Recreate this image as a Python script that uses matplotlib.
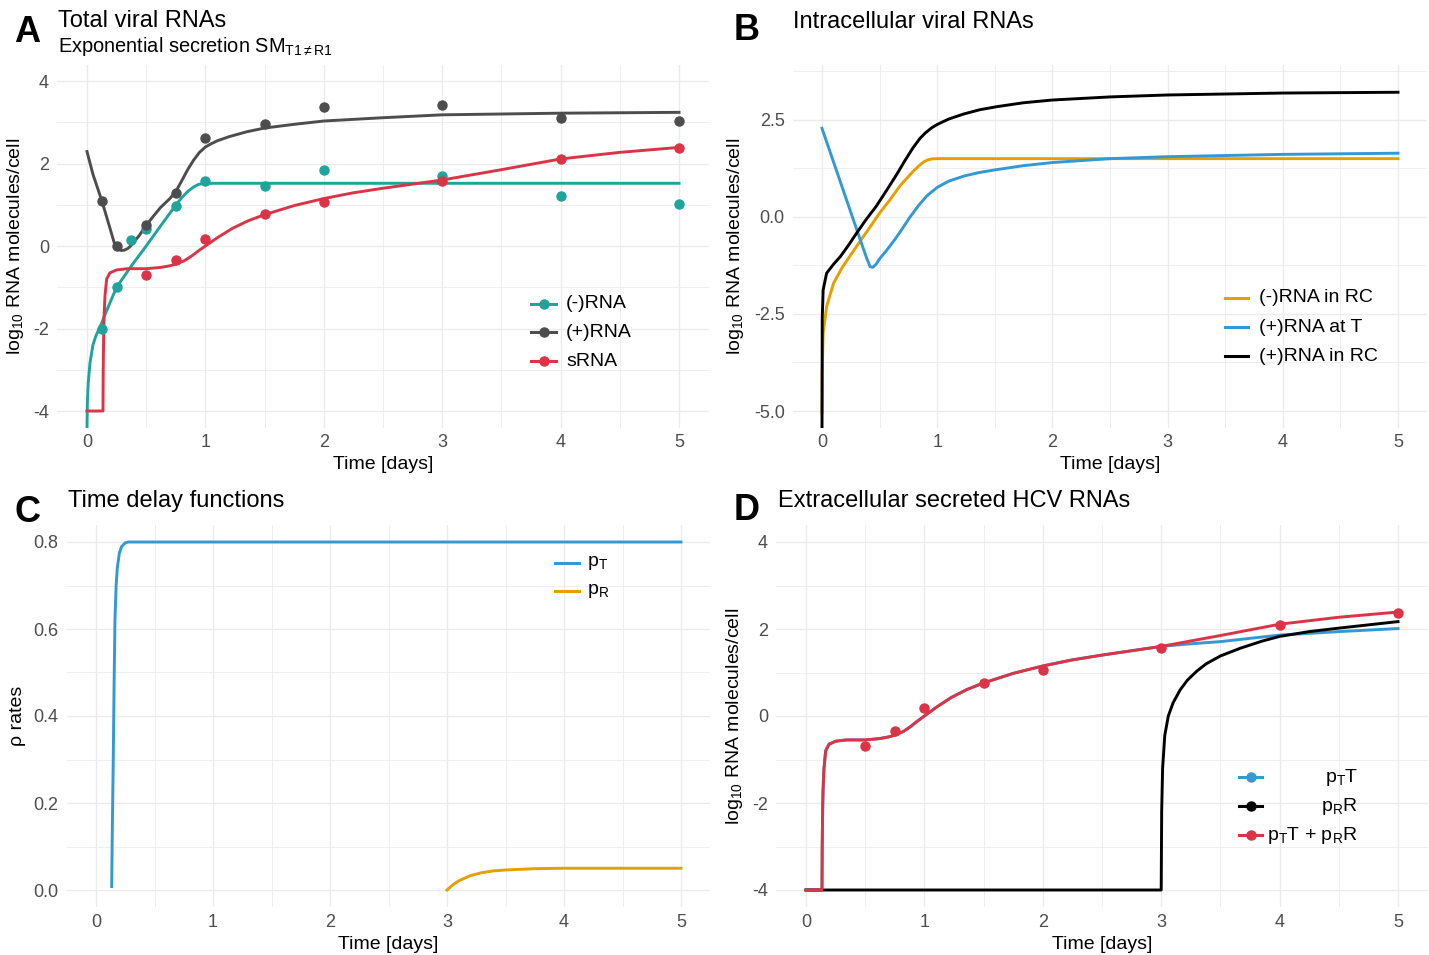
import numpy as np
import matplotlib
matplotlib.use('Agg')
import matplotlib.pyplot as plt
from matplotlib.lines import Line2D
from matplotlib.ticker import MultipleLocator, FormatStrFormatter

plt.rcParams['font.family'] = ['Liberation Sans', 'DejaVu Sans']
plt.rcParams['mathtext.fontset'] = 'custom'
plt.rcParams['mathtext.rm'] = 'Liberation Sans'
plt.rcParams['mathtext.it'] = 'Liberation Sans:italic'
plt.rcParams['mathtext.bf'] = 'Liberation Sans:bold'
plt.rcParams['axes.unicode_minus'] = False

# ---- data ----
# A: measured points (days, log10 RNA / cell)
neg_obs_t = [0.125, 0.25, 0.375, 0.5, 0.75, 1, 1.5, 2, 3, 4, 5]
neg_obs_y = [-2.0, -1.0, 0.15, 0.41, 0.97, 1.58, 1.45, 1.84, 1.70, 1.22, 1.01]
pos_obs_t = [0.125, 0.25, 0.5, 0.75, 1, 1.5, 2, 3, 4, 5]
pos_obs_y = [1.1, 0.0, 0.5, 1.29, 2.61, 2.95, 3.37, 3.41, 3.10, 3.02]
srna_obs_t = [0.5, 0.75, 1, 1.5, 2, 3, 4, 5]
srna_obs_y = [-0.7, -0.35, 0.18, 0.77, 1.06, 1.57, 2.10, 2.37]

# A: model curves
neg_t = [0, 0.003, 0.01, 0.025, 0.05, 0.075, 0.1, 0.125, 0.15, 0.18, 0.25, 0.375, 0.5,
         0.625, 0.75, 0.8, 0.85, 0.9, 0.94, 0.97, 1.0, 5]
neg_y = [-4.4, -3.8, -3.33, -2.84, -2.4, -2.18, -2.02, -1.86, -1.68, -1.47, -1.0, -0.48,
         0.0, 0.5, 0.99, 1.17, 1.32, 1.43, 1.49, 1.51, 1.52, 1.52]
pos_t = [0, 0.05, 0.125, 0.19, 0.236, 0.265, 0.29, 0.315, 0.345, 0.375, 0.44, 0.5, 0.56,
         0.62, 0.7, 0.75, 0.8, 0.85, 0.9, 0.95, 1.0, 1.05, 1.1, 1.2, 1.35, 1.5, 1.75, 2,
         2.5, 3, 4, 5]
pos_y = [2.29, 1.74, 1.1, 0.47, 0.02, -0.08, -0.11, -0.1, -0.06, 0.02, 0.25, 0.5, 0.72,
         0.93, 1.15, 1.32, 1.58, 1.85, 2.08, 2.27, 2.4, 2.48, 2.55, 2.65, 2.77, 2.86, 2.95,
         3.03, 3.11, 3.18, 3.22, 3.24]
srna_t = [0, 0.135, 0.137, 0.141, 0.144, 0.152, 0.166, 0.194, 0.25, 0.34, 0.5, 0.62, 0.7,
          0.75, 0.82, 0.88, 0.94, 1.0, 1.1, 1.23, 1.36, 1.5, 1.75, 2.0, 2.25, 2.5, 2.75,
          3, 3.5, 4, 4.5, 5]
srna_y = [-4.0, -4.0, -3.0, -2.08, -1.71, -1.2, -0.8, -0.65, -0.58, -0.55, -0.55, -0.52,
          -0.48, -0.44, -0.36, -0.25, -0.12, 0.0, 0.2, 0.43, 0.61, 0.76, 0.98, 1.15, 1.29,
          1.40, 1.50, 1.60, 1.85, 2.11, 2.27, 2.39]

# B: intracellular curves
rc_neg_t = [0, 0.002, 0.01, 0.04, 0.1, 0.17, 0.24, 0.33, 0.42, 0.5, 0.59, 0.68, 0.79,
            0.84, 0.88, 0.92, 0.96, 1.0, 5]
rc_neg_y = [-5.05, -4.0, -3.0, -2.31, -1.71, -1.33, -1.02, -0.63, -0.25, 0.1, 0.44, 0.81,
            1.17, 1.31, 1.41, 1.47, 1.495, 1.5, 1.5]
t_pos_t = [0, 0.2, 0.36, 0.39, 0.417, 0.44, 0.47, 0.5, 0.55, 0.59, 0.64, 0.68, 0.76, 0.84,
           0.91, 1.0, 1.1, 1.23, 1.36, 1.5, 1.75, 2, 2.5, 3, 4, 5]
t_pos_y = [2.28, 0.55, -0.83, -1.08, -1.28, -1.3, -1.22, -1.08, -0.9, -0.75, -0.55, -0.38,
           -0.02, 0.3, 0.54, 0.76, 0.92, 1.05, 1.14, 1.21, 1.32, 1.40, 1.50, 1.55, 1.61, 1.64]
rc_pos_t = [0, 0.002, 0.01, 0.04, 0.1, 0.16, 0.23, 0.3, 0.38, 0.47, 0.56, 0.65, 0.72, 0.79,
            0.85, 0.9, 0.95, 1.0, 1.1, 1.23, 1.37, 1.52, 1.75, 2, 2.5, 3, 4, 5]
rc_pos_y = [-5.45, -2.6, -1.88, -1.45, -1.22, -1.02, -0.73, -0.42, -0.08, 0.27, 0.68, 1.1,
            1.45, 1.78, 2.02, 2.17, 2.29, 2.38, 2.52, 2.65, 2.76, 2.84, 2.94, 3.01, 3.09,
            3.14, 3.19, 3.21]

# C: time delay functions
pT_t = [0.134, 0.14, 0.148, 0.155, 0.162, 0.172, 0.182, 0.2, 0.22, 0.25, 0.276, 5]
pT_y = [0.008, 0.15, 0.31, 0.48, 0.62, 0.70, 0.74, 0.775, 0.79, 0.798, 0.8, 0.8]
pR_t = [3.0, 3.05, 3.1, 3.2, 3.3, 3.4, 3.5, 3.75, 4, 4.5, 5]
pR_y = [0.0, 0.012, 0.021, 0.033, 0.04, 0.044, 0.046, 0.049, 0.05, 0.05, 0.05]

# D: secreted RNA split by origin (p_T T follows sRNA up to day 3)
split = srna_t.index(3)
ptT_t = srna_t[:split + 1] + [3.25, 3.5, 4, 4.5, 5]
ptT_y = srna_y[:split + 1] + [1.66, 1.71, 1.86, 1.94, 2.01]
prR_t = [0, 3.0, 3.004, 3.012, 3.03, 3.06, 3.1, 3.16, 3.22, 3.3, 3.38, 3.5, 3.67, 3.85,
         4, 4.25, 4.5, 5]
prR_y = [-4.0, -4.0, -2.2, -1.2, -0.45, 0.0, 0.3, 0.6, 0.82, 1.03, 1.2, 1.38, 1.56, 1.72,
         1.83, 1.94, 2.02, 2.17]

TEAL = '#20A39B'
GREY = '#4D4D4D'
RED = '#DA3446'
ORANGE = '#E69F00'
BLUE = '#3299D5'
BLACK = '#000000'

W, H = 1429, 955
fig = plt.figure(figsize=(W / 100, H / 100), dpi=100)


def add_ax(left, top, right, bottom):
    return fig.add_axes([left / W, 1 - bottom / H, (right - left) / W, (bottom - top) / H])


def style(ax, ylim, ymaj, fmt):
    ax.set_xlim(-0.25, 5.25)
    ax.set_ylim(*ylim)
    ax.xaxis.set_major_locator(MultipleLocator(1))
    ax.xaxis.set_minor_locator(MultipleLocator(0.5))
    ax.yaxis.set_major_locator(MultipleLocator(ymaj))
    ax.yaxis.set_minor_locator(MultipleLocator(ymaj / 2))
    ax.yaxis.set_major_formatter(FormatStrFormatter(fmt))
    ax.grid(which='major', color='#EBEBEB', lw=1.0)
    ax.grid(which='minor', color='#EBEBEB', lw=0.6)
    ax.tick_params(which='both', length=0, labelsize=13, labelcolor=GREY)
    ax.tick_params(axis='x', pad=5)
    ax.tick_params(axis='y', pad=6)
    for s in ax.spines.values():
        s.set_visible(False)
    ax.set_axisbelow(True)
    ax.set_xlabel('Time [days]', fontsize=14)


def legend(entries, x0, x1, xt, ys, ha='left', marker=True):
    for (label, color), y in zip(entries, ys):
        fig.add_artist(Line2D([x0 / W, x1 / W], [1 - y / H, 1 - y / H], color=color, lw=2.2))
        if marker:
            fig.add_artist(Line2D([(x0 + x1) / 2 / W], [1 - y / H], marker='o', ms=6.5,
                                  color=color, lw=0))
        fig.text(xt / W, 1 - y / H, label, ha=ha, va='center', fontsize=14)


ylab = r'log$_{10}$ RNA molecules/cell'
lw = 2.1
ms = 6.5

# ---- A ----
axA = add_ax(57.4, 64.5, 708.6, 427.5)
style(axA, (-4.4, 4.4), 2, '%d')
axA.plot(neg_t, neg_y, color=TEAL, lw=lw)
axA.plot(pos_t, pos_y, color=GREY, lw=lw)
axA.plot(srna_t, srna_y, color=RED, lw=lw)
axA.plot(neg_obs_t, neg_obs_y, 'o', color=TEAL, ms=ms)
axA.plot(pos_obs_t, pos_obs_y, 'o', color=GREY, ms=ms)
axA.plot(srna_obs_t, srna_obs_y, 'o', color=RED, ms=ms)
axA.set_ylabel(ylab, fontsize=14)
axA.yaxis.set_label_coords(-0.048, 0.5)
axA.xaxis.set_label_coords(0.5, -0.078)
legend([('(-)RNA', TEAL), ('(+)RNA', GREY), ('sRNA', RED)], 531, 556, 566, [304, 332.5, 361])

# ---- B ----
axB = add_ax(793.2, 64.5, 1426.8, 427.5)
style(axB, (-5.425, 3.925), 2.5, '%.1f')
axB.plot(rc_neg_t, rc_neg_y, color=ORANGE, lw=lw)
axB.plot(t_pos_t, t_pos_y, color=BLUE, lw=lw)
axB.plot(rc_pos_t, rc_pos_y, color=BLACK, lw=lw)
axB.set_ylabel(ylab, fontsize=14)
axB.yaxis.set_label_coords(-0.0745, 0.5)
axB.xaxis.set_label_coords(0.5, -0.078)
legend([('(-)RNA in RC', ORANGE), ('(+)RNA at T', BLUE), ('(+)RNA in RC', BLACK)],
       1225, 1248, 1259, [298, 327, 356], marker=False)

# ---- C ----
axC = add_ax(66.75, 524.6, 710.25, 907.4)
style(axC, (-0.04, 0.84), 0.2, '%.1f')
axC.plot(pT_t, pT_y, color=BLUE, lw=lw)
axC.plot(pR_t, pR_y, color=ORANGE, lw=lw)
axC.set_ylabel('ρ rates', fontsize=14)
axC.yaxis.set_label_coords(-0.0633, 0.5)
axC.xaxis.set_label_coords(0.5, -0.076)
legend([(r'p$_\mathrm{T}$', BLUE), (r'p$_\mathrm{R}$', ORANGE)], 555, 579, 587,
       [562.5, 591], marker=False)

# ---- D ----
axD = add_ax(776.4, 524.6, 1427.6, 907.4)
style(axD, (-4.4, 4.4), 2, '%d')
axD.plot(ptT_t, ptT_y, color=BLUE, lw=lw)
axD.plot(prR_t, prR_y, color=BLACK, lw=lw)
axD.plot(srna_t, srna_y, color=RED, lw=lw)
axD.plot(srna_obs_t, srna_obs_y, 'o', color=RED, ms=ms)
axD.set_ylabel(ylab, fontsize=14)
axD.yaxis.set_label_coords(-0.048, 0.5)
axD.xaxis.set_label_coords(0.5, -0.076)
legend([(r'p$_\mathrm{T}$T', BLUE), (r'p$_\mathrm{R}$R', BLACK),
        (r'p$_\mathrm{T}$T + p$_\mathrm{R}$R', RED)], 1239, 1262, 1358,
       [777, 806, 835], ha='right')

# ---- panel tags and titles ----
for tag, x, y in [('A', 27, 32), ('B', 747, 31), ('C', 28, 513), ('D', 747, 511)]:
    fig.text(x / W, 1 - y / H, tag, fontsize=26, fontweight='bold', ha='center', va='center')

fig.text(58 / W, 1 - 26.7 / H, 'Total viral RNAs', fontsize=17, va='baseline')
fig.text(58 / W, 1 - 51.7 / H, r'Exponential secretion SM$_{\mathrm{T1}\neq\mathrm{R1}}$',
         fontsize=14.4, va='baseline')
fig.text(793 / W, 1 - 28 / H, 'Intracellular viral RNAs', fontsize=17, va='baseline')
fig.text(68 / W, 1 - 506.7 / H, 'Time delay functions', fontsize=17, va='baseline')
fig.text(778 / W, 1 - 507 / H, 'Extracellular secreted HCV RNAs', fontsize=17, va='baseline')

fig.savefig('out.png', dpi=100)
